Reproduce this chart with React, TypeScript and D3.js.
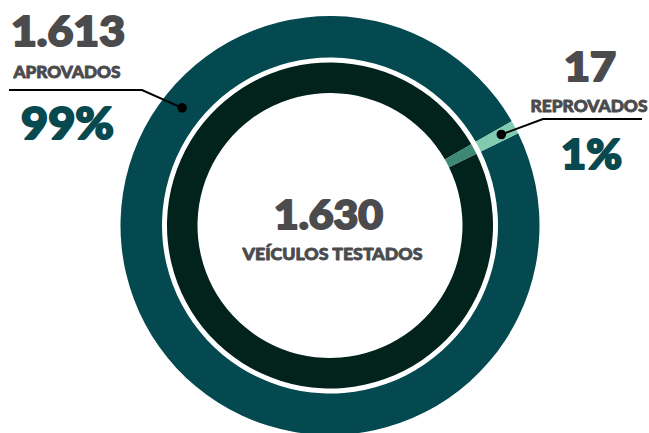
import * as d3 from 'd3';

// resultados da inspeção
const categories = ["Aprovados", "Reprovados"];
const counts = [1613, 17];
const labels = ["APROVADOS", "REPROVADOS"];
const totalLabel = "VEÍCULOS TESTADOS";

const outerColors = ["#03494f", "#80cbb0"];
const innerColors = ["#02221c", "#3e8876"];

const W = 649;
const H = 433;
const cx = 330;
const cy = 225.5;

const fmt = d3.formatLocale({ decimal: ",", thousands: ".", grouping: [3], currency: ["R$", ""] }).format(",d");

const App = () => {
    const total = d3.sum(counts);
    const data = categories.map((c, i) => ({ name: c, value: counts[i], label: labels[i] }));

    // reprovados sits around 62deg clockwise from the top
    const start = (63.9 * Math.PI) / 180;
    const pie = d3.pie<{ name: string; value: number }>()
        .value(d => d.value)
        .sort(null)
        .startAngle(start)
        .endAngle(start + 2 * Math.PI);
    const slices = pie(data);

    const outerArc = d3.arc<d3.PieArcDatum<any>>().innerRadius(168).outerRadius(209.5);
    const innerArc = d3.arc<d3.PieArcDatum<any>>().innerRadius(132.5).outerRadius(163);

    const pct = (v: number) => `${Math.round((100 * v) / total)}%`;

    // annotation dots on the outer ring
    const polar = (deg: number, r: number) => {
        const a = (deg * Math.PI) / 180;
        return [cx + r * Math.sin(a), cy - r * Math.cos(a)];
    };
    const rep = slices[1];
    const repMid = ((rep.startAngle + rep.endAngle) / 2) * 180 / Math.PI;
    const dotL = polar(-51.5, 189);
    const dotR = polar(repMid, 194);

    const gray = "#4b4b4d";
    const teal = "#07494f";
    const font = "'Lato Black', Lato, 'Open Sans', sans-serif";

    // fake a heavier weight with an outline of the same colour
    const heavy = (color: string, w: number) => ({ fill: color, stroke: color, strokeWidth: w, strokeLinejoin: "round" as const });

    return (
        <svg width={W} height={H} style={{ position: "absolute", left: 0, top: 0 }} fontFamily={font}>
            <rect width={W} height={H} fill="#fff" />
            <g transform={`translate(${cx},${cy})`}>
                {slices.map((s, i) => (
                    <path key={"o" + i} d={outerArc(s) || ""} fill={outerColors[i]} />
                ))}
                {slices.map((s, i) => (
                    <path key={"i" + i} d={innerArc(s) || ""} fill={innerColors[i]} />
                ))}
            </g>

            {/* leader lines */}
            <polyline points={`${dotL[0]},${dotL[1]} 142,90 9,90`} fill="none" stroke="#000" strokeWidth={2} />
            <circle cx={dotL[0]} cy={dotL[1]} r={4.8} fill="#000" />
            <polyline points={`${dotR[0]},${dotR[1]} 543,119 642,119`} fill="none" stroke="#000" strokeWidth={2} />
            <circle cx={dotR[0]} cy={dotR[1]} r={4.8} fill="#000" />

            {/* aprovados */}
            <text x={11} y={46} fontSize={41} fontWeight={900} {...heavy(gray, 2)} textLength={114} lengthAdjust="spacingAndGlyphs">{fmt(data[0].value)}</text>
            <text x={13.5} y={77.5} fontSize={16} fontWeight={900} {...heavy(gray, 0.8)} textLength={107} lengthAdjust="spacingAndGlyphs">{data[0].label}</text>
            <text x={21} y={139} fontSize={43} fontWeight={900} {...heavy(teal, 2)} textLength={93} lengthAdjust="spacingAndGlyphs">{pct(data[0].value)}</text>

            {/* reprovados */}
            <text x={564} y={81} fontSize={39} fontWeight={900} {...heavy(gray, 2)} textLength={52} lengthAdjust="spacingAndGlyphs">{fmt(data[1].value)}</text>
            <text x={530.5} y={111.5} fontSize={16} fontWeight={900} {...heavy(gray, 0.8)} textLength={117} lengthAdjust="spacingAndGlyphs">{data[1].label}</text>
            <text x={561} y={169} fontSize={41} fontWeight={900} {...heavy(teal, 2)} textLength={61} lengthAdjust="spacingAndGlyphs">{pct(data[1].value)}</text>

            {/* total */}
            <text x={274} y={229} fontSize={39} fontWeight={900} {...heavy(gray, 2)} textLength={109} lengthAdjust="spacingAndGlyphs">{fmt(total)}</text>
            <text x={242.5} y={259.5} fontSize={16} fontWeight={900} {...heavy(gray, 0.8)} textLength={180} lengthAdjust="spacingAndGlyphs">{totalLabel}</text>
        </svg>
    );
};

export default App;
